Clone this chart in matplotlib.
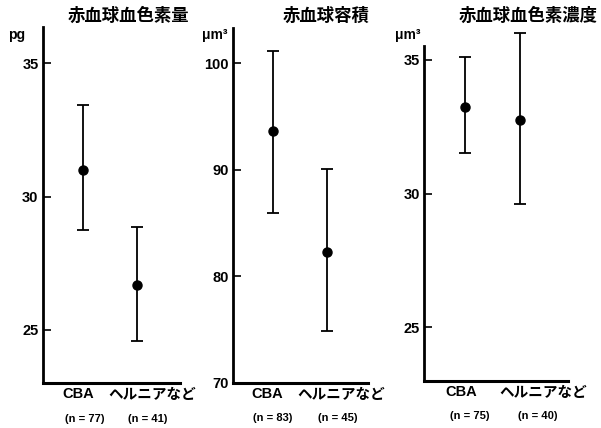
import matplotlib.pyplot as plt

plt.rcParams['font.family'] = ['Liberation Sans', 'Noto Sans CJK JP', 'DejaVu Sans']

# データ (平均値, 上限, 下限)
groups = ['CBA', 'ヘルニアなど']
titles = ['赤血球血色素量', '赤血球容積', '赤血球血色素濃度']
units = ['pg', 'μm³', 'μm³']

mch_mean = [31.0, 26.7]
mch_upper = [33.45, 28.85]
mch_lower = [28.75, 24.6]
mch_n = [77, 41]

mcv_mean = [93.65, 82.3]
mcv_upper = [101.1, 90.1]
mcv_lower = [85.9, 74.9]
mcv_n = [83, 45]

mchc_mean = [33.23, 32.75]
mchc_upper = [35.12, 36.0]
mchc_lower = [31.52, 29.6]
mchc_n = [75, 40]

yticks_list = [[25, 30, 35], [70, 80, 90, 100], [25, 30, 35]]
ylims = [(23, 36.36), (70, 103.3), (23, 35.52)]

fig = plt.figure(figsize=(6.01, 4.28), dpi=100)

# 各パネルの位置 (figure fraction)
rects = [
    [0.071, 0.1044, 0.2285, 0.8325],
    [0.3877, 0.1058, 0.2246, 0.8287],
    [0.7055, 0.1098, 0.2396, 0.7827],
]
xlims = [(-0.76, 1.81), (-0.727, 1.745), (-0.745, 1.873)]
# ラベル位置のずれ (CBA, ヘルニア, n1, n2)
label_x = [(-0.1, 1.29, 0.03, 1.21), (-0.1, 1.25, 0.0, 1.19), (-0.06, 1.43, 0.08, 1.32)]
title_x = [128, 326, 528]
unit_x = [17, 215, 408]

datasets = [
    (mch_mean, mch_upper, mch_lower, mch_n),
    (mcv_mean, mcv_upper, mcv_lower, mcv_n),
    (mchc_mean, mchc_upper, mchc_lower, mchc_n),
]

for i, (mean, upper, lower, ns) in enumerate(datasets):
    ax = fig.add_axes(rects[i])
    x = [0, 1]
    err = [[m - l for m, l in zip(mean, lower)], [u - m for m, u in zip(mean, upper)]]
    ax.errorbar(x, mean, yerr=err, fmt='o', color='black', ms=6.5,
                elinewidth=1.3, capsize=4, capthick=1.3, clip_on=False, zorder=3)
    ax.set_xlim(*xlims[i])
    ax.set_ylim(*ylims[i])
    ax.set_yticks(yticks_list[i])
    ax.set_yticklabels([str(t) for t in yticks_list[i]], fontsize=10.5, fontweight='bold')
    ax.tick_params(axis='y', direction='in', length=6, width=1.2, pad=3)
    ax.set_xticks([])
    for s in ['top', 'right']:
        ax.spines[s].set_visible(False)
    ax.spines['left'].set_linewidth(2)
    ax.spines['bottom'].set_linewidth(2.2)

    lx = label_x[i]
    tr = ax.get_xaxis_transform()
    ax.annotate(groups[0], xy=(lx[0], 0), xycoords=tr, xytext=(0, -8), textcoords='offset points',
                ha='center', va='center', fontsize=10.5, fontweight='bold')
    ax.annotate(groups[1], xy=(lx[1], 0), xycoords=tr, xytext=(0, -8), textcoords='offset points',
                ha='center', va='center', fontsize=10.5, fontweight='bold',
                family=['Noto Sans CJK JP', 'DejaVu Sans'])
    ax.annotate(f'(n = {ns[0]})', xy=(lx[2], 0), xycoords=tr, xytext=(0, -25.5), textcoords='offset points',
                ha='center', va='center', fontsize=8, fontweight='bold')
    ax.annotate(f'(n = {ns[1]})', xy=(lx[3], 0), xycoords=tr, xytext=(0, -25.5), textcoords='offset points',
                ha='center', va='center', fontsize=8, fontweight='bold')

    fig.text(title_x[i] / 601, 1 - 16 / 428, titles[i], ha='center', va='center',
             fontsize=12.5, fontweight='bold', family=['Noto Sans CJK JP', 'DejaVu Sans'])
    fig.text(unit_x[i] / 601, 1 - 35 / 428, units[i], ha='center', va='center',
             fontsize=10, fontweight='bold')

fig.savefig('out.png', dpi=100)
